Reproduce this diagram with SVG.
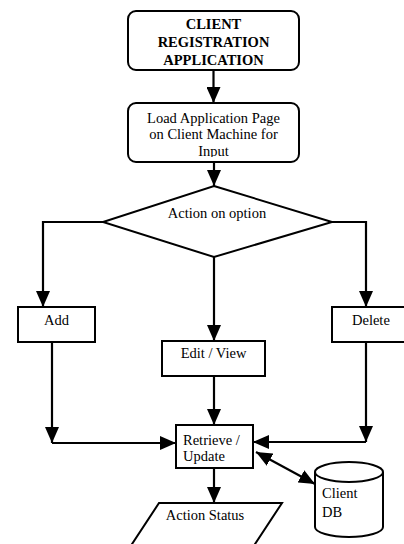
<svg xmlns="http://www.w3.org/2000/svg" width="404" height="544" viewBox="0 0 404 544">
<style>
.box{fill:#fff;stroke:#000;stroke-width:2}
.ln{fill:none;stroke:#000;stroke-width:2.2}
text{font-family:"Liberation Serif","Times New Roman",serif;font-size:14.5px;fill:#000}
.b{font-weight:bold}
.c{text-anchor:middle}
</style>
<defs>
<marker id="ah" markerUnits="userSpaceOnUse" markerWidth="16" markerHeight="14" viewBox="0 0 16 14" refX="16" refY="7" orient="auto-start-reverse">
<path d="M0,0 L16,7 L0,14 z" fill="#000"/>
</marker>
<clipPath id="clipLoad"><rect x="128" y="103" width="171" height="54"/></clipPath>
</defs>
<rect width="404" height="544" fill="#fff"/>
<g id="connectors">
<line class="ln" x1="213.5" y1="70" x2="213.5" y2="103" marker-end="url(#ah)"/>
<line class="ln" x1="214" y1="162" x2="214" y2="186" marker-end="url(#ah)"/>
<polyline class="ln" points="103,222 43,222 43,307" marker-end="url(#ah)"/>
<polyline class="ln" points="332,222 366,222 366,307" marker-end="url(#ah)"/>
<line class="ln" x1="214" y1="257" x2="214" y2="341" marker-end="url(#ah)"/>
<line class="ln" x1="52" y1="342" x2="52" y2="443" marker-end="url(#ah)"/>
<line class="ln" x1="52" y1="443" x2="176" y2="443" marker-end="url(#ah)"/>
<line class="ln" x1="366" y1="342" x2="366" y2="442" marker-end="url(#ah)"/>
<line class="ln" x1="366" y1="442" x2="253" y2="442" marker-end="url(#ah)"/>
<line class="ln" x1="214" y1="376" x2="214" y2="425" marker-end="url(#ah)"/>
<line class="ln" x1="214" y1="468" x2="214" y2="503" marker-end="url(#ah)"/>
<line class="ln" x1="256" y1="452" x2="315" y2="484" marker-start="url(#ah)" marker-end="url(#ah)"/>
</g>
<g id="start">
<rect class="box" x="128" y="11" width="171" height="59" rx="8"/>
<text class="b c" x="213.5" y="29">CLIENT</text>
<text class="b c" x="213.5" y="47">REGISTRATION</text>
<text class="b c" x="213.5" y="65">APPLICATION</text>
</g>
<g id="load">
<rect class="box" x="128" y="103" width="171" height="59" rx="8"/>
<g clip-path="url(#clipLoad)">
<text class="c" x="213.5" y="123">Load Application Page</text>
<text class="c" x="213.5" y="139">on Client Machine for</text>
<text class="c" x="213.5" y="156">Input</text>
</g>
</g>
<g id="decision">
<polygon class="box" points="214,186 332,222 214,257 103,222"/>
<text class="c" x="217" y="218">Action on option</text>
</g>
<g id="add">
<rect class="box" x="18" y="307" width="77" height="35"/>
<text class="c" x="56.5" y="325">Add</text>
</g>
<g id="edit">
<rect class="box" x="162" y="341" width="103" height="35"/>
<text class="c" x="213.5" y="358">Edit / View</text>
</g>
<g id="delete">
<rect class="box" x="332" y="307" width="80" height="35"/>
<text x="352" y="325">Delete</text>
</g>
<g id="retrieve">
<rect class="box" x="176" y="425" width="77" height="43"/>
<text x="183" y="445">Retrieve /</text>
<text x="183" y="461">Update</text>
</g>
<g id="status">
<polygon class="box" points="159,503 282,503 244.5,560 121.5,560"/>
<text class="c" x="205" y="520">Action Status</text>
</g>
<g id="db">
<path class="box" d="M315,472 L315,527 A34,10 0 0 0 383,527 L383,472"/>
<ellipse class="box" cx="349" cy="472" rx="34" ry="10"/>
<text x="322" y="498">Client</text>
<text x="322" y="517">DB</text>
</g>
</svg>
